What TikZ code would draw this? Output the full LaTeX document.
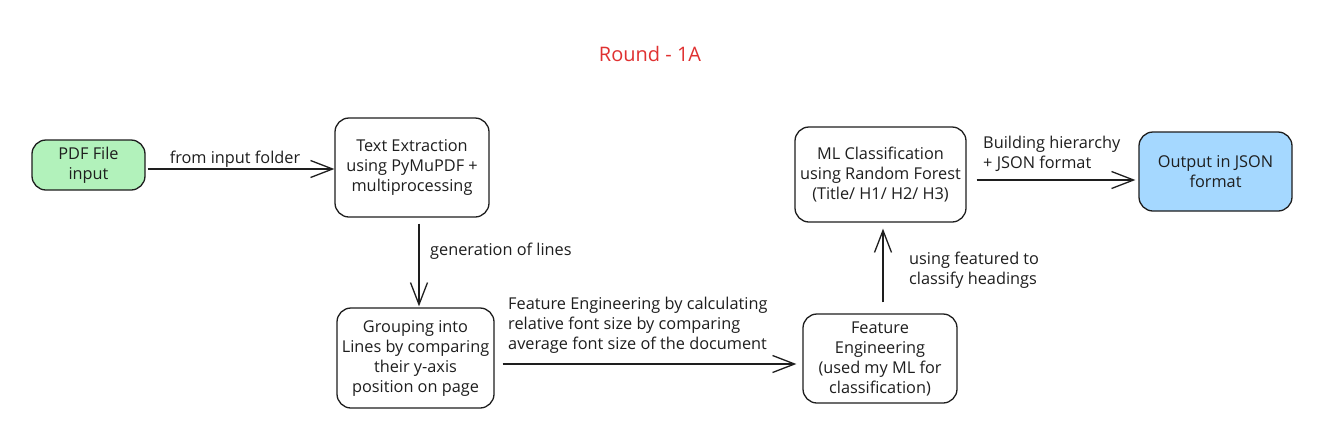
\documentclass[tikz,border=0pt]{standalone}
\usepackage{fontspec}
\setmainfont{Open Sans}
\usetikzlibrary{arrows.meta}
\definecolor{ink}{HTML}{1E1E1E}
\definecolor{greenfill}{HTML}{B2F2BB}
\definecolor{bluefill}{HTML}{A5D8FF}
\definecolor{titlered}{HTML}{E03131}
\tikzset{
  flowbox/.style={draw=ink, line width=1.3pt, rounded corners=14pt, align=center,
    text=ink, inner sep=0pt, font=\fontsize{16.3}{20}\selectfont},
  flowarrow/.style={draw=ink, line width=1.3pt,
    -{Straight Barb[length=22pt,width=17pt,line width=1.3pt]}},
  flowlabel/.style={text=ink, inner sep=0pt, font=\fontsize{16.3}{20}\selectfont},
}
\begin{document}
\begin{tikzpicture}[x=1pt,y=-1pt]
\useasboundingbox[fill=white] (0,0) rectangle (1319,445);
\node[text=titlered, font=\fontsize{20}{24}\selectfont] (title) at (650,54) {Round - 1A};

\node[flowbox, fill=greenfill, minimum width=113pt, minimum height=50pt] (pdf) at (88.5,165) {PDF File\\input};
\node[flowbox, minimum width=154pt, minimum height=99pt] (text) at (412,167.5) {Text Extraction\\using PyMuPDF +\\multiprocessing};
\node[flowbox, minimum width=157pt, minimum height=100pt] (grp) at (415.5,358) {Grouping into\\Lines by comparing\\their y-axis\\position on page};
\node[flowbox, minimum width=154pt, minimum height=89pt] (feat) at (880,358.5) {Feature\\Engineering\\(used my ML for\\classification)};
\node[flowbox, minimum width=171pt, minimum height=95pt] (ml) at (880.5,174.5) {ML Classification\\using Random Forest\\(Title/ H1/ H2/ H3)};
\node[flowbox, fill=bluefill, minimum width=153pt, minimum height=79pt] (out) at (1215.5,171.5) {Output in JSON\\format};

\draw[flowarrow, shorten <=2pt] ([yshift=-4pt]pdf.east) -- ([yshift=-1.5pt]text.west);
\draw[flowarrow, shorten <=6pt, shorten >=1pt] ([xshift=7pt]text.south) -- ([xshift=3.5pt]grp.north);
\draw[flowarrow, shorten <=8pt, shorten >=6pt] ([yshift=-6pt]grp.east) -- ([yshift=-5.5pt]feat.west);
\draw[flowarrow, shorten <=11pt, shorten >=6pt] ([xshift=3pt]feat.north) -- ([xshift=2.5pt]ml.south);
\draw[flowarrow, shorten <=10pt, shorten >=3pt] ([yshift=-5.5pt]ml.east) -- ([yshift=-8.5pt]out.west);

\node[flowlabel] (l1) at (235,159) {from input folder};
\node[flowlabel, anchor=west] (l2) at (430,251) {generation of lines};
\node[flowlabel, anchor=west, align=left] (l3) at (508,325) {Feature Engineering by calculating\\relative font size by comparing\\average font size of the document};
\node[flowlabel, anchor=west, align=left] (l4) at (909,270) {using featured to\\classify headings};
\node[flowlabel, anchor=west, align=left] (l5) at (983,154) {Building hierarchy\\+ JSON format};
\end{tikzpicture}
\end{document}
